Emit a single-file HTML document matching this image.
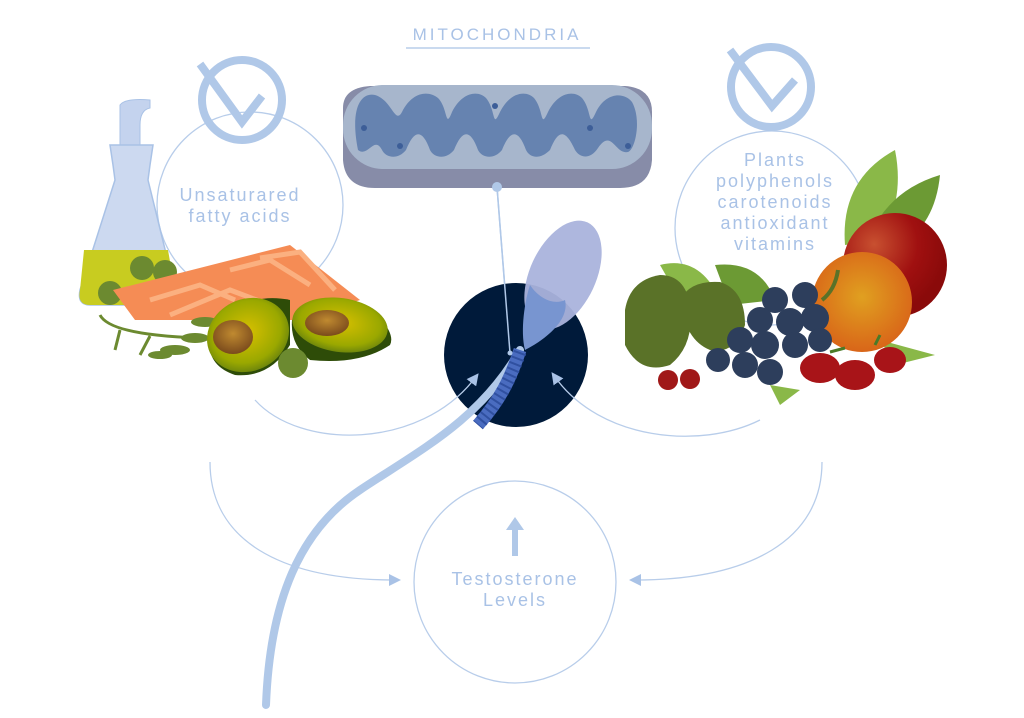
<!DOCTYPE html>
<html><head><meta charset="utf-8"><style>
html,body{margin:0;padding:0;background:#fff;width:1024px;height:718px;overflow:hidden}
svg{display:block}
text{font-family:"Liberation Sans",sans-serif;fill:#a9c2e6}
</style></head><body>
<svg width="1024" height="718" viewBox="0 0 1024 718" xmlns="http://www.w3.org/2000/svg">
<defs>
<radialGradient id="av" cx="0.5" cy="0.45" r="0.6"><stop offset="0" stop-color="#d8c000"/><stop offset="0.7" stop-color="#9aa800"/><stop offset="1" stop-color="#5e7a10"/></radialGradient>
<radialGradient id="pit" cx="0.5" cy="0.4" r="0.6"><stop offset="0" stop-color="#c08a30"/><stop offset="1" stop-color="#7a4a1c"/></radialGradient>
<radialGradient id="apple" cx="0.3" cy="0.3" r="0.7"><stop offset="0" stop-color="#c85030"/><stop offset="0.6" stop-color="#a01010"/><stop offset="1" stop-color="#8a0a0a"/></radialGradient>
<radialGradient id="orng" cx="0.5" cy="0.45" r="0.6"><stop offset="0" stop-color="#e0a020"/><stop offset="1" stop-color="#d86018"/></radialGradient>
<marker id="ah" markerWidth="12" markerHeight="12" refX="6" refY="6" orient="auto" markerUnits="userSpaceOnUse"><path d="M0,0 L12,6 L0,12 Z" fill="#a9c2e6"/></marker>
</defs>

<text x="497" y="40" font-size="17" text-anchor="middle" letter-spacing="3">MITOCHONDRIA</text>
<line x1="406" y1="48" x2="590" y2="48" stroke="#b8cdea" stroke-width="1.5"/>

<circle cx="250" cy="205" r="93" fill="none" stroke="#b8cdea" stroke-width="1.3"/>
<circle cx="772" cy="228" r="97" fill="none" stroke="#b8cdea" stroke-width="1.3"/>
<circle cx="515" cy="582" r="101" fill="none" stroke="#b8cdea" stroke-width="1.3"/>

<circle cx="242" cy="100" r="40" fill="none" stroke="#b0c8e8" stroke-width="8"/>
<path d="M200,64 L242,122 L262,96" fill="none" stroke="#b0c8e8" stroke-width="8"/>
<circle cx="771" cy="87" r="40" fill="none" stroke="#b0c8e8" stroke-width="8"/>
<path d="M730,50 L772,106 L795,80" fill="none" stroke="#b0c8e8" stroke-width="8"/>

<text x="240" y="201" font-size="18" text-anchor="middle" letter-spacing="2">Unsaturared</text>
<text x="240" y="222" font-size="18" text-anchor="middle" letter-spacing="2">fatty acids</text>
<g font-size="18" text-anchor="middle" letter-spacing="2">
<text x="775" y="166">Plants</text>
<text x="775" y="187">polyphenols</text>
<text x="775" y="208">carotenoids</text>
<text x="775" y="229">antioxidant</text>
<text x="775" y="250">vitamins</text>
</g>
<text x="515" y="585" font-size="18" text-anchor="middle" letter-spacing="2">Testosterone</text>
<text x="515" y="606" font-size="18" text-anchor="middle" letter-spacing="2">Levels</text>
<rect x="512" y="528" width="6" height="28" fill="#b0c8e8"/>
<path d="M506,530 L515,517 L524,530 Z" fill="#b0c8e8"/>

<path d="M210,462 C210,540 280,580 395,580" fill="none" stroke="#b8cdea" stroke-width="1.3" marker-end="url(#ah)"/>
<path d="M822,462 C822,540 750,580 635,580" fill="none" stroke="#b8cdea" stroke-width="1.3" marker-end="url(#ah)"/>

<!-- mitochondria -->
<path d="M343,108 Q343,88 370,86 L625,86 Q652,88 652,112 L652,160 Q650,188 620,188 L375,188 Q345,188 343,160 Z" fill="#878ca8"/>
<rect x="343" y="85" width="309" height="84" rx="40" fill="#a7b6cc"/>
<path d="M358,150 C350,110 360,92 375,95 C392,100 395,125 402,112 C412,92 428,90 438,98 C448,108 445,130 452,112 C462,92 478,90 486,98 C496,110 492,130 500,112 C510,92 526,90 534,98 C544,110 540,130 548,112 C558,92 574,90 582,98 C592,110 588,130 596,112 C606,92 624,92 632,102 C642,120 635,150 628,152 C615,155 612,128 598,148 C590,160 580,158 575,150 C565,128 558,130 550,150 C540,160 530,158 526,150 C518,128 510,130 502,150 C494,160 482,158 478,150 C470,128 462,130 454,150 C446,160 434,158 430,150 C422,128 414,130 406,150 C398,160 386,158 382,150 C374,135 368,158 358,150 Z" fill="#6683b0"/>
<g fill="#3d5e98"><circle cx="364" cy="128" r="3"/><circle cx="400" cy="146" r="3"/><circle cx="495" cy="106" r="3"/><circle cx="590" cy="128" r="3"/><circle cx="628" cy="146" r="3"/></g>
<circle cx="497" cy="187" r="5" fill="#b0c8e8"/>
<line x1="497" y1="187" x2="510" y2="353" stroke="#b0c8e8" stroke-width="1.5"/>

<circle cx="516" cy="355" r="72" fill="#001a3a"/>
<path d="M520,350 C480,420 420,450 360,490 C300,530 270,600 266,705" fill="none" stroke="#b0c8e8" stroke-width="8" stroke-linecap="round"/>
<path d="M520,350 C510,380 500,400 478,425" fill="none" stroke="#4a6cc0" stroke-width="13"/>
<path d="M520,352 C510,380 500,400 478,425" fill="none" stroke="#3050a0" stroke-width="13" stroke-dasharray="2 4"/>
<ellipse cx="563" cy="275" rx="33" ry="58" transform="rotate(25 563 275)" fill="#aab3dc" opacity="0.95"/>
<path d="M530,285 C540,300 555,305 565,300 C570,320 545,340 525,350 C520,330 525,300 530,285 Z" fill="#7895d0"/>
<circle cx="510" cy="353" r="2.5" fill="#b0c8e8"/>
<line x1="497" y1="187" x2="510" y2="353" stroke="#b0c8e8" stroke-width="1.5"/>

<path d="M255,400 C300,450 420,450 475,378" fill="none" stroke="#b8cdea" stroke-width="1.3" marker-end="url(#ah)"/>
<path d="M760,420 C700,450 600,440 555,377" fill="none" stroke="#b8cdea" stroke-width="1.3" marker-end="url(#ah)"/>

<!-- oil bottle -->
<path d="M120,150 L120,105 Q125,98 150,100 L150,108 Q140,110 140,125 L140,150 Z" fill="#c4d3ee" stroke="#a9c2e6"/>
<path d="M110,145 L153,145 L150,165 L148,180 L175,290 Q175,305 160,305 L90,305 Q77,305 80,290 L115,180 L113,165 Z" fill="#ccd9f0" stroke="#a9c2e6" stroke-width="1.5"/>
<path d="M84,250 L168,250 L175,290 Q175,305 160,305 L90,305 Q77,305 80,290 Z" fill="#c8cc20"/>
<circle cx="110" cy="293" r="12" fill="#6c8a30"/><circle cx="142" cy="268" r="12" fill="#6c8a30"/><circle cx="165" cy="272" r="12" fill="#6c8a30"/>
<path d="M113,290 L290,245 L360,300 L300,320 L135,320 Z" fill="#f58c55"/>
<path d="M150,300 L200,285 L235,300 M170,315 L230,290 L270,305 M230,270 L270,260 L310,285 M260,258 L300,252 L335,290" fill="none" stroke="#fbb080" stroke-width="5"/>
<path d="M100,315 Q110,335 200,338 M120,330 L115,350 M150,336 L140,355" fill="none" stroke="#6c8a30" stroke-width="3"/>
<g fill="#6c8a30"><ellipse cx="175" cy="350" rx="15" ry="5"/><ellipse cx="195" cy="338" rx="14" ry="5"/><ellipse cx="160" cy="355" rx="12" ry="4"/><ellipse cx="205" cy="322" rx="14" ry="5"/></g>
<path d="M210,335 Q240,290 290,300 L290,345 Q270,378 235,375 Q205,365 210,335 Z" fill="#2e4c08"/>
<ellipse cx="248" cy="335" rx="42" ry="36" transform="rotate(-25 248 335)" fill="url(#av)"/>
<ellipse cx="233" cy="337" rx="20" ry="17" fill="url(#pit)"/>
<path d="M292,320 Q330,295 380,318 Q395,335 390,345 Q360,365 310,360 Q290,345 292,320 Z" fill="#2e4c08"/>
<ellipse cx="340" cy="325" rx="48" ry="27" transform="rotate(8 340 325)" fill="url(#av)"/>
<ellipse cx="327" cy="323" rx="22" ry="13" fill="url(#pit)"/>
<circle cx="293" cy="363" r="15" fill="#6c8a30"/>

<!-- right foods -->
<path d="M845,245 Q840,180 895,150 Q905,200 880,240 Z" fill="#8ab848"/>
<path d="M870,235 Q890,190 940,175 Q935,225 900,245 Z" fill="#6c9a34"/>
<path d="M660,265 Q700,255 720,300 L680,300 Z" fill="#8ab848"/>
<path d="M715,265 Q760,260 775,300 L730,305 Z" fill="#6c9a34"/>
<path d="M770,385 L800,390 L780,405 Z M880,340 L935,355 L895,365 Z" fill="#8ab848"/>
<circle cx="895" cy="265" r="52" fill="url(#apple)"/>
<circle cx="862" cy="302" r="50" fill="url(#orng)"/>
<path d="M625,310 Q630,280 660,275 Q685,275 690,305 Q695,345 670,365 Q640,375 625,345 Z" fill="#5a7228"/>
<path d="M680,300 Q690,280 720,282 Q745,290 745,325 Q735,355 710,350 Q685,340 680,300 Z" fill="#5a7228"/>
<g fill="#2d3e5c"><circle cx="775" cy="300" r="13"/><circle cx="805" cy="295" r="13"/><circle cx="815" cy="318" r="14"/><circle cx="790" cy="322" r="14"/><circle cx="760" cy="320" r="13"/><circle cx="740" cy="340" r="13"/><circle cx="765" cy="345" r="14"/><circle cx="795" cy="345" r="13"/><circle cx="718" cy="360" r="12"/><circle cx="745" cy="365" r="13"/><circle cx="770" cy="372" r="13"/><circle cx="820" cy="340" r="12"/></g>
<path d="M822,300 Q835,290 838,270" fill="none" stroke="#5a7228" stroke-width="4"/>
<circle cx="668" cy="380" r="10" fill="#a01818"/><circle cx="690" cy="379" r="10" fill="#a01818"/>
<ellipse cx="820" cy="368" rx="20" ry="15" fill="#a81418"/>
<ellipse cx="855" cy="375" rx="20" ry="15" fill="#a81418"/>
<ellipse cx="890" cy="360" rx="16" ry="13" fill="#a81418"/>
<path d="M830,352 L845,348 M875,345 L880,335" stroke="#4a7a28" stroke-width="3"/>
</svg>
</body></html>
